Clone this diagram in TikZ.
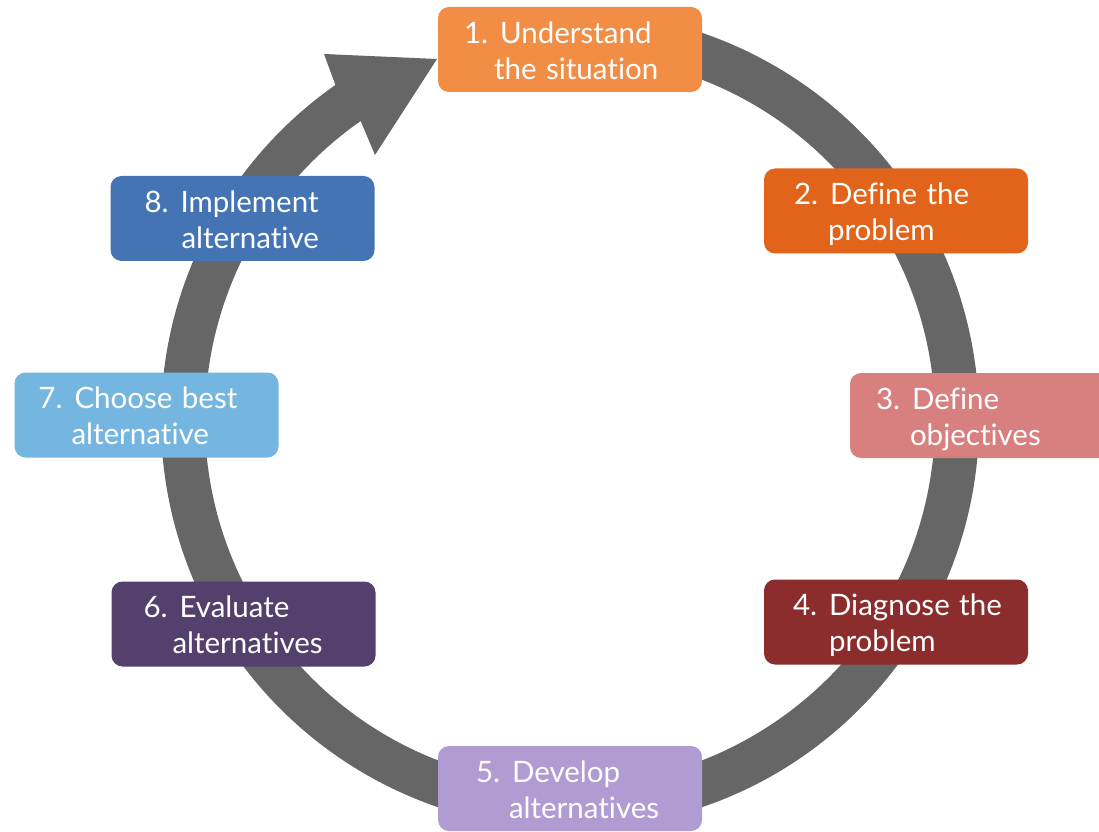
\documentclass[tikz,border=0pt]{standalone}
\usepackage{fontspec}
\setmainfont{Lato}[Ligatures={NoCommon,NoRare}, WordSpace=1.25]

\definecolor{ringgray}{HTML}{666666}
\definecolor{cone}{HTML}{F18D44}
\definecolor{ctwo}{HTML}{E2631A}
\definecolor{cthree}{HTML}{D8807F}
\definecolor{cfour}{HTML}{8B2D2D}
\definecolor{cfive}{HTML}{B09CD3}
\definecolor{csix}{HTML}{54406C}
\definecolor{cseven}{HTML}{74B6E0}
\definecolor{ceight}{HTML}{4574B5}

% #1 left padding, #2 indent of the second line, #3 first line, #4 second line
\newcommand{\steplabel}[4]{%
  \makebox[264pt][l]{\hspace*{#1pt}\raisebox{-4.5pt}[\height][\depth]{%
    \begin{tabular}[c]{@{}l@{}}#3\\\hspace*{#2pt}#4\end{tabular}}}}

\begin{document}
\begin{tikzpicture}[x=1pt,y=1pt,
  stepbox/.style={rounded corners=11pt, minimum width=264pt, minimum height=85pt,
    inner sep=0pt, text=white,
    font=\fontsize{29.5}{36}\selectfont}]
  \useasboundingbox (0,0) rectangle (1099,831);

  \coordinate (C) at (570,411);

  % the cycle ring, ending in an arrowhead that points at step 1
  \fill[ringgray] ([shift={(C)}]100:409)
    arc[start angle=100, end angle=-235, radius=409]
    -- (324,777) -- (437,772) -- (375,676)
    -- ([shift={(C)}]125:365)
    arc[start angle=-235, end angle=100, radius=365] -- cycle;

  \node[stepbox, fill=cone]   (s1) at (570,781.5) {\steplabel{26}{30}{1. Understand}{the situation}};
  \node[stepbox, fill=ctwo]   (s2) at (896,620)   {\steplabel{30}{34}{2. Define the}{problem}};
  \node[stepbox, fill=cthree] (s3) at (982,415.5) {\steplabel{26}{34}{3. Define}{objectives}};
  \node[stepbox, fill=cfour]  (s4) at (896,209)   {\steplabel{29}{36}{4. Diagnose the}{problem}};
  \node[stepbox, fill=cfive]  (s5) at (570,42.5)  {\steplabel{38}{33}{5. Develop}{alternatives}};
  \node[stepbox, fill=csix]   (s6) at (243.5,207) {\steplabel{32}{29}{6. Evaluate}{alternatives}};
  \node[stepbox, fill=cseven] (s7) at (146.5,416) {\steplabel{24}{33}{7. Choose best}{alternative}};
  \node[stepbox, fill=ceight] (s8) at (242.5,612.5) {\steplabel{34}{37}{8. Implement}{alternative}};
\end{tikzpicture}
\end{document}
